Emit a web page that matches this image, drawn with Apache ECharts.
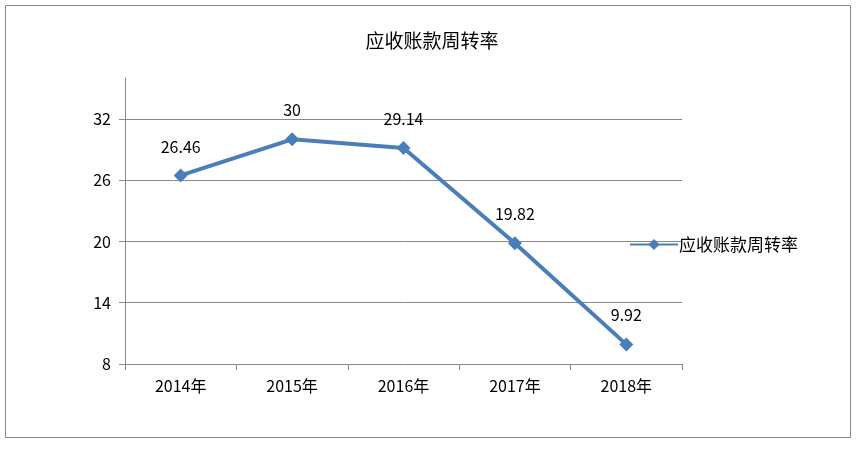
<!DOCTYPE html>
<html><head><meta charset="utf-8">
<script src="https://cdn.jsdelivr.net/npm/echarts@6/dist/echarts.min.js"></script>
<style>html,body{margin:0;padding:0;background:#fff}#c{width:864px;height:449px}</style>
</head><body><div id="c"></div>
<script>
const years = ['2014年', '2015年', '2016年', '2017年', '2018年'];
const turnover = [26.46, 30, 29.14, 19.82, 9.92];
const seriesName = '应收账款周转率';

const font = '"Noto Sans CJK SC", "Liberation Sans", sans-serif';
const chart = echarts.init(document.getElementById('c'));
chart.setOption({
  animation: false,
  title: { text: seriesName, left: 'center', top: 26, textStyle: { fontFamily: font, fontSize: 19, fontWeight: 'normal', color: '#000' } },
  legend: {
    left: 624, top: 231, itemWidth: 48, itemHeight: 14, itemGap: 4,
    textStyle: { fontFamily: font, fontSize: 17, color: '#000', padding: [0, 0, 0, -4] },
    data: [seriesName]
  },
  graphic: [{ type: 'rect', shape: { x: 5.5, y: 5.5, width: 845, height: 432 }, style: { fill: 'none', stroke: '#888', lineWidth: 1 } }],
  grid: { left: 125, right: 182, top: 78, bottom: 85 },
  xAxis: {
    type: 'category', data: years, boundaryGap: true,
    axisLine: { lineStyle: { color: '#888' } },
    axisTick: { show: true, length: 6, lineStyle: { color: '#888' } },
    axisLabel: { fontFamily: font, fontSize: 16, color: '#000', margin: 14 }
  },
  yAxis: {
    type: 'value', min: 8, max: 36, interval: 6,
    axisLine: { show: true, lineStyle: { color: '#888' } },
    axisTick: { show: true, length: 6, lineStyle: { color: '#888' } },
    axisLabel: { fontFamily: font, fontSize: 16, color: '#000', margin: 14, showMaxLabel: false },
    splitLine: { show: true, showMaxLine: false, showMinLine: false, lineStyle: { color: '#888' } }
  },
  series: [{
    name: seriesName, type: 'line', data: turnover,
    symbol: 'diamond', symbolSize: 14,
    lineStyle: { color: '#4a7ebb', width: 4 },
    itemStyle: { color: '#4a7ebb' },
    label: { show: true, position: 'top', distance: 14, fontFamily: font, fontSize: 16, color: '#000' }
  }]
});
</script></body></html>
